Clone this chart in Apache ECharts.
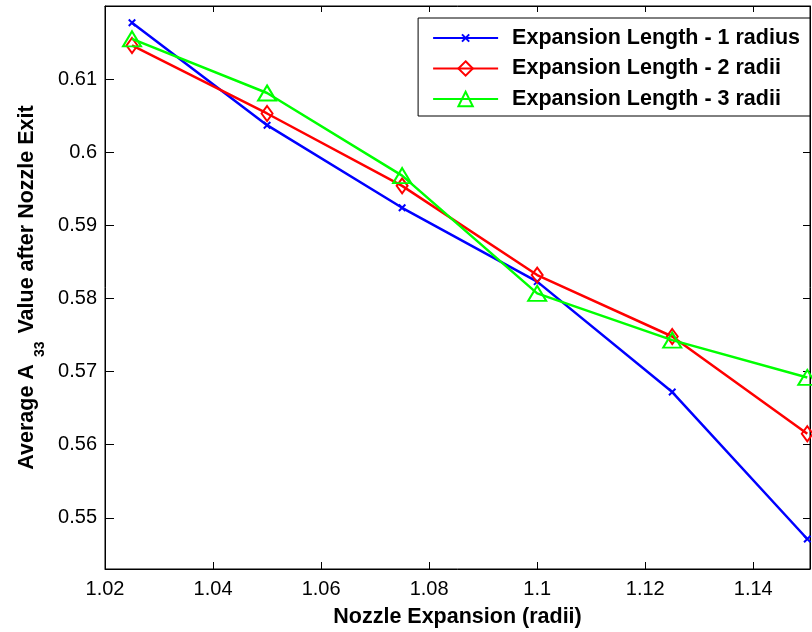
<!DOCTYPE html>
<html>
<head>
<meta charset="utf-8">
<script src="https://cdn.jsdelivr.net/npm/echarts@6/dist/echarts.min.js"></script>
<style>
  html, body { margin: 0; padding: 0; background: #fff; }
  #chart { width: 812px; height: 632px; }
</style>
</head>
<body>
<div id="chart"></div>
<script>
// Nozzle expansion (radii) at which the average A33 was sampled
const expansion = [1.025, 1.05, 1.075, 1.1, 1.125, 1.15];

// Average A33 after the nozzle exit, one list per expansion length
const length1Radius = [0.6177, 0.6037, 0.5924, 0.5823, 0.5672, 0.5471];
const length2Radii  = [0.6146, 0.6053, 0.5954, 0.5832, 0.5748, 0.5615];
const length3Radii  = [0.6155, 0.6081, 0.5968, 0.5807, 0.5743, 0.5692];

const seriesNames = [
  'Expansion Length - 1 radius',
  'Expansion Length - 2 radii',
  'Expansion Length - 3 radii'
];

// Tick positions on both axes
const xTicks = [1.02, 1.04, 1.06, 1.08, 1.1, 1.12, 1.14];
const yTicks = [0.55, 0.56, 0.57, 0.58, 0.59, 0.6, 0.61];

const FONT = 'Liberation Sans, Arial, Helvetica, sans-serif';

// Small "x" marker: the leading moves pad the path's box so the cross
// stays small relative to the symbol size (also in the legend).
const CROSS = 'path://M0,0M24,24M6,6L18,18M18,6L6,18';

function pairs(ys) { return expansion.map((x, i) => [x, ys[i]]); }
function tick(len, values) {
  return { inside: true, length: len, customValues: values, lineStyle: { color: '#000', width: 1 } };
}
const axisLine = { show: true, lineStyle: { color: '#000', width: 1 } };

const chart = echarts.init(document.getElementById('chart'), null, { renderer: 'canvas' });

chart.setOption({
  animation: false,
  backgroundColor: '#fff',
  grid: {
    left: 105, right: 2, top: 6, bottom: 63,
    containLabel: false, outerBoundsMode: 'none',
    show: true, borderColor: '#000', borderWidth: 1, backgroundColor: 'transparent'
  },
  legend: {
    right: 2, top: 18,
    orient: 'vertical',
    backgroundColor: '#fff',
    borderColor: '#000', borderWidth: 1, borderRadius: 0,
    padding: [9, 10, 6, 14],
    itemGap: 8.5,
    itemWidth: 65, itemHeight: 18,
    textStyle: {
      fontFamily: FONT, fontSize: 21.5, fontWeight: 'bold', color: '#000',
      lineHeight: 22, padding: [0, 0, 0, 9]
    },
    data: seriesNames
  },
  xAxis: [{
    type: 'value', min: 1.02, max: 1.1505, position: 'bottom',
    name: 'Nozzle Expansion (radii)', nameLocation: 'middle', nameGap: 37,
    nameTextStyle: { fontFamily: FONT, fontSize: 21.5, fontWeight: 'bold', color: '#000' },
    axisLine: axisLine,
    axisTick: tick(7, xTicks),
    axisLabel: {
      customValues: xTicks, margin: 10,
      fontFamily: FONT, fontSize: 20, color: '#000',
      formatter: v => String(+v.toFixed(2))
    },
    splitLine: { show: false }
  }, {
    type: 'value', min: 1.02, max: 1.1505, position: 'top',
    axisLine: axisLine,
    axisTick: tick(6, xTicks),
    axisLabel: { show: false },
    splitLine: { show: false }
  }],
  yAxis: [{
    type: 'value', min: 0.543, max: 0.62, position: 'left',
    name: '{t|Average A}{s|33}{t| Value after Nozzle Exit}',
    nameLocation: 'middle', nameGap: 62, nameRotate: 90,
    nameTextStyle: {
      rich: {
        t: { fontFamily: FONT, fontSize: 21.5, fontWeight: 'bold', color: '#000', lineHeight: 21, verticalAlign: 'top' },
        s: { fontFamily: FONT, fontSize: 14, fontWeight: 'bold', color: '#000', lineHeight: 13, verticalAlign: 'top', padding: [17, 2, 0, 7] }
      }
    },
    axisLine: axisLine,
    axisTick: tick(9, yTicks),
    axisLabel: {
      customValues: yTicks, margin: 8,
      fontFamily: FONT, fontSize: 20, color: '#000',
      formatter: v => String(+v.toFixed(2))
    },
    splitLine: { show: false }
  }, {
    type: 'value', min: 0.543, max: 0.62, position: 'right',
    axisLine: axisLine,
    axisTick: tick(7, yTicks),
    axisLabel: { show: false },
    splitLine: { show: false }
  }],
  series: [{
    name: seriesNames[0], type: 'line', data: pairs(length1Radius),
    symbol: CROSS, symbolSize: 13,
    lineStyle: { color: '#0000ff', width: 2.5 },
    itemStyle: { color: '#0000ff', borderColor: '#0000ff', borderWidth: 2 },
    z: 3
  }, {
    name: seriesNames[1], type: 'line', data: pairs(length2Radii),
    symbol: 'diamond', symbolSize: [11, 15],
    lineStyle: { color: '#ff0000', width: 2.5 },
    itemStyle: { color: 'rgba(255,255,255,0)', borderColor: '#ff0000', borderWidth: 2 },
    z: 4
  }, {
    name: seriesNames[2], type: 'line', data: pairs(length3Radii),
    symbol: 'triangle', symbolSize: [18, 15],
    lineStyle: { color: '#00ff00', width: 2.5 },
    itemStyle: { color: 'rgba(255,255,255,0)', borderColor: '#00ff00', borderWidth: 2 },
    z: 5
  }]
});
</script>
</body>
</html>
